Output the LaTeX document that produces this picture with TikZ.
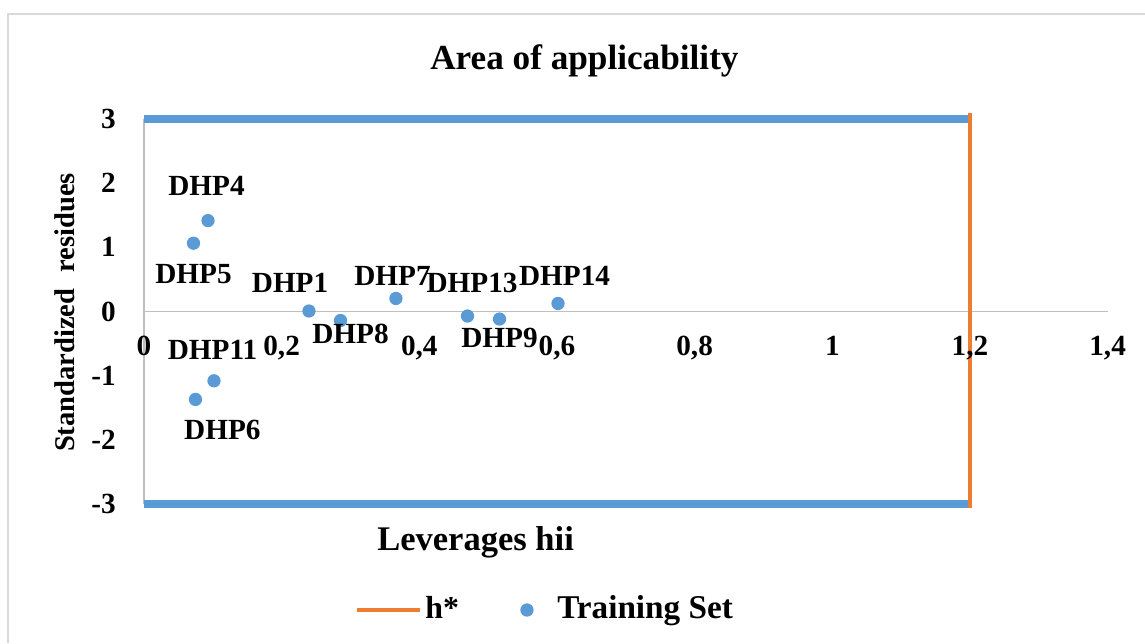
\documentclass[tikz,border=0pt]{standalone}
\usepackage{fontspec}
\setmainfont{Liberation Serif}
\usetikzlibrary{positioning}
\definecolor{trainblue}{HTML}{5B9BD5}
\definecolor{hstarorange}{HTML}{ED7D31}
\definecolor{axisgrey}{HTML}{BFBFBF}
\definecolor{framegrey}{HTML}{D9D9D9}
\newcommand{\boldsize}[1]{\fontsize{#1}{#1}\selectfont\bfseries}

\begin{document}
\begin{tikzpicture}[x=18.211cm, y=1.7013cm,
		trainpt/.style={circle, fill=trainblue, inner sep=0pt, minimum size=10pt},
		dhplabel/.style={font=\boldsize{22pt}, inner sep=0pt},
		xtick/.style={font=\boldsize{22pt}, inner sep=0pt, anchor=base},
		ytick/.style={font=\boldsize{22pt}, inner sep=0pt, anchor=east},
		bigtext/.style={font=\boldsize{#1}, inner sep=0pt, anchor=base west}]
		%%%%% START %%%%%
		\useasboundingbox[fill=white] (-0.2092, -5.1555) rectangle (1.4543, 4.8445);
		\draw[framegrey, line width=1.5pt] (-0.1976, -5.1555) -- (-0.1976, 4.627) -- (1.4543, 4.627);
		
		\node[bigtext=26.5pt] (title) at (0.4155, 3.756) {Area of applicability};
		
		% axes
		\coordinate (o) at (0, 0);
		\coordinate (xend) at (1.4, 0);
		\coordinate (ytop) at (0, 3);
		\coordinate (ybot) at (0, -3);
		\draw[axisgrey, line width=1.1pt] (o) -- (xend);
		\draw[axisgrey, line width=1.1pt] (ytop) -- (ybot);
		
		% limits
		\coordinate (hs-top) at (1.2, 3);
		\coordinate (hs-bot) at (1.2, -3);
		\draw[trainblue, line width=6pt] (ytop) -- (hs-top);
		\draw[trainblue, line width=6pt] (ybot) -- (hs-bot);
		\draw[hstarorange, line width=2.6pt] ([yshift=4pt]hs-top) -- ([yshift=-3pt]hs-bot);
		
		\node[ytick] (y3) at (-0.0407, 3) {3};
		\node[ytick] (y2) at (-0.0407, 2) {2};
		\node[ytick] (y1) at (-0.0407, 1) {1};
		\node[ytick] (y0) at (-0.0407, 0) {0};
		\node[ytick] (ym1) at (-0.0407, -1) {-1};
		\node[ytick] (ym2) at (-0.0407, -2) {-2};
		\node[ytick] (ym3) at (-0.0407, -3) {-3};
		
		\node[xtick] (x0) at (0, -0.677) {0};
		\node[xtick] (x2) at (0.2, -0.677) {0,2};
		\node[xtick] (x4) at (0.4, -0.677) {0,4};
		\node[xtick] (x6) at (0.6, -0.677) {0,6};
		\node[xtick] (x8) at (0.8, -0.677) {0,8};
		\node[xtick] (x10) at (1, -0.677) {1};
		\node[xtick] (x12) at (1.2, -0.677) {1,2};
		\node[xtick] (x14) at (1.4, -0.677) {1,4};
		
		% training set
		\node[trainpt] (p4) at (0.093, 1.414) {};
		\node[trainpt] (p5) at (0.0719, 1.0625) {};
		\node[trainpt] (p1) at (0.2397, 0.008) {};
		\node[trainpt] (p8) at (0.2855, -0.14) {};
		\node[trainpt] (p7) at (0.366, 0.203) {};
		\node[trainpt] (p13) at (0.47, -0.07) {};
		\node[trainpt] (p9) at (0.5165, -0.117) {};
		\node[trainpt] (p14) at (0.6015, 0.125) {};
		\node[trainpt] (p11) at (0.1017, -1.078) {};
		\node[trainpt] (p6) at (0.0748, -1.367) {};
		
		\node[dhplabel] (l4) at ([shift={(-1.1pt, 26.25pt)}]p4) {DHP4};
		\node[dhplabel] (l5) at ([shift={(0pt, -23.25pt)}]p5) {DHP5};
		\node[dhplabel] (l1) at ([shift={(-14.25pt, 21.4pt)}]p1) {DHP1};
		\node[dhplabel] (l8) at ([shift={(7.5pt, -9.75pt)}]p8) {DHP8};
		\node[dhplabel] (l7) at ([shift={(-2.6pt, 17.25pt)}]p7) {DHP7};
		\node[dhplabel] (l13) at ([shift={(3.4pt, 25.1pt)}]p13) {DHP13};
		\node[dhplabel] (l9) at ([shift={(0pt, -14.6pt)}]p9) {DHP9};
		\node[dhplabel] (l14) at ([shift={(4.9pt, 21pt)}]p14) {DHP14};
		\node[dhplabel] (l11) at ([shift={(-1.1pt, 23.25pt)}]p11) {DHP11};
		\node[dhplabel] (l6) at ([shift={(20.25pt, -22.9pt)}]p6) {DHP6};
		
		\node[font=\boldsize{21.5pt}, inner sep=0pt, rotate=90] (ylab) at (-0.1148, -0.016) {Standardized\hspace{12pt}residues};
		\node[bigtext=26pt] (xlab) at (0.3385, -3.709) {Leverages hii};
		
		% legend
		\coordinate (leg-a) at (0.3095, -4.642);
		\coordinate (leg-b) at (0.401, -4.642);
		\draw[hstarorange, line width=2.6pt] (leg-a) -- (leg-b);
		\node[bigtext=24pt] (hstar) at (0.4083, -4.767) {h*};
		\node[trainpt] (legpt) at (0.5564, -4.642) {};
		\node[bigtext=25pt] (trainset) at (0.600, -4.767) {Training Set};
		%%%%% END %%%%%
\end{tikzpicture}
\end{document}
